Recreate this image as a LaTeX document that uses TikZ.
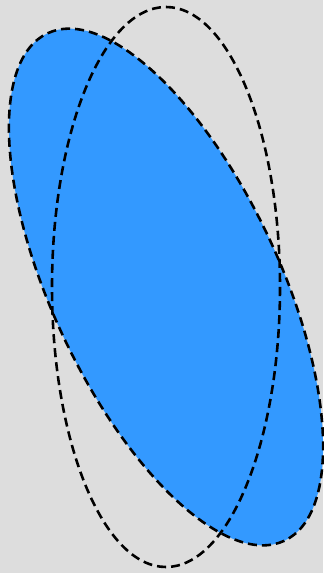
\documentclass[tikz,border=0pt]{standalone}
\usepackage{xcolor}
\definecolor{bgGray}{HTML}{DDDDDD}
\definecolor{ellBlue}{HTML}{3399FF}
\tikzset{
    dashline/.style={black, line width=2.2pt, dash pattern=on 7.7pt off 4.3pt},
}

\begin{document}
\begin{tikzpicture}[x=0.03cm,y=-0.03cm]
    % Background
    \fill[bgGray] (0,0) rectangle (323,573);
    \useasboundingbox (0,0) rectangle (323,573);

    % Rotated, filled ellipse
    \coordinate (c) at (166,287);
    \draw[dashline, fill=ellBlue, rotate around={25:(c)}] (c) ellipse (114 and 280);

    % Upright dashed ellipse
    \draw[dashline] (c) ellipse (114 and 280);
\end{tikzpicture}
\end{document}
